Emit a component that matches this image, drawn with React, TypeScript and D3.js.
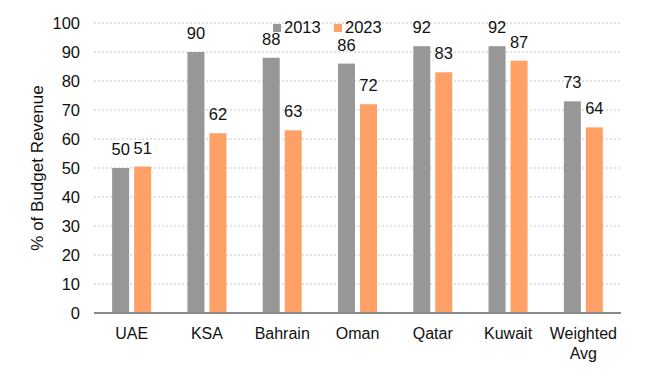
import React from "react";
import * as d3 from "d3";

const categories = ["UAE", "KSA", "Bahrain", "Oman", "Qatar", "Kuwait", "Weighted\nAvg"];
const series2013 = [50, 90, 88, 86, 92, 92, 73];
const series2023 = [50.5, 62, 63, 72, 83, 87, 64];
const yTicks = [0, 10, 20, 30, 40, 50, 60, 70, 80, 90, 100];
const seriesNames = ["2013", "2023"];
const colors = ["#979797", "#FFA066"];

const W = 648, H = 375;
const M = { left: 94, right: 27, top: 23, bottom: 62 };

export default function App() {
  const x = d3.scaleBand<string>().domain(categories).range([M.left, W - M.right]);
  const y = d3.scaleLinear().domain([0, 100]).range([H - M.bottom, M.top]);
  const bw = 17;
  const gap = 5;
  const font = "Arial, 'Liberation Sans', sans-serif";
  const all = [series2013, series2023];
  return (
    <svg width={W} height={H} style={{ position: "absolute", left: 0, top: 0, background: "#fff" }} fontFamily={font}>
      {yTicks.map((t) => (
        <g key={t}>
          {t > 0 && (
            <line x1={M.left} x2={W - M.right} y1={y(t)} y2={y(t)} stroke="#c8c8c8" strokeWidth={1.2} strokeDasharray="2,2" />
          )}
          <text x={80} y={y(t)} dy="0.35em" textAnchor="end" fontSize={16.5} fill="#111">{t}</text>
        </g>
      ))}
      {categories.map((c, i) => {
        const cx = (x(c) as number) + x.bandwidth() / 2;
        return (
          <g key={c}>
            {all.map((s, k) => {
              const bx = k === 0 ? cx - gap / 2 - bw : cx + gap / 2;
              return (
                <g key={k}>
                  <rect x={bx} y={y(s[i])} width={bw} height={y(0) - y(s[i])} fill={colors[k]} />
                  <text x={bx + bw / 2} y={y(s[i]) - 13} textAnchor="middle" fontSize={16.5} fill="#111">{Math.round(s[i])}</text>
                </g>
              );
            })}
            {c.split("\n").map((ln, j) => (
              <text key={j} x={cx} y={339 + j * 20} textAnchor="middle" fontSize={16} fill="#111">{ln}</text>
            ))}
          </g>
        );
      })}
      <line x1={M.left} x2={W - M.right} y1={y(0)} y2={y(0)} stroke="#8a8a8a" strokeWidth={2} />
      {seriesNames.map((n, k) => (
        <g key={n} transform={`translate(${273 + k * 61},24)`}>
          <rect x={0} y={0} width={8} height={8} fill={colors[k]} />
          <text x={11} y={9} fontSize={16.5} fill="#111">{n}</text>
        </g>
      ))}
      <text transform={`translate(43,${(y(0) + y(100)) / 2}) rotate(-90)`} textAnchor="middle" fontSize={17} fill="#111">% of Budget Revenue</text>
    </svg>
  );
}
